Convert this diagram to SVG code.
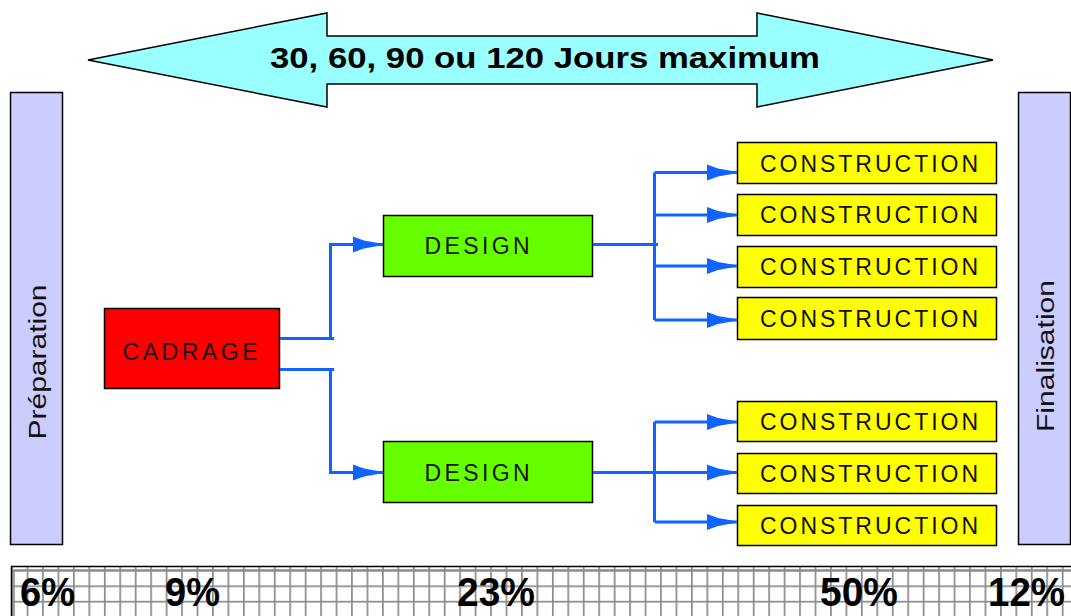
<svg xmlns="http://www.w3.org/2000/svg" width="1071" height="616" viewBox="0 0 1071 616">
<style>
.box{stroke:#000;stroke-width:1.5}
.side{fill:#ccccff}
.cons{fill:#ffff00}
.des{fill:#66ff00}
.cad{fill:#ff0000}
.lbl{font-family:"Liberation Sans",Arial,sans-serif;font-size:23px;fill:#111;text-anchor:middle}
.pct{font-family:"Liberation Sans",Arial,sans-serif;font-size:41px;font-weight:bold;fill:#000}
.conn{fill:none;stroke:#0f64ff;stroke-width:3}
</style>
<defs>
<marker id="ah" markerUnits="userSpaceOnUse" viewBox="0 -9 32 18" markerWidth="32" markerHeight="18" refX="30" refY="0" orient="auto">
<path d="M0,-8 L11,-4 L28,-1 L31,0 L28,1 L11,4 L0,8 Z" fill="#0f64ff"/>
</marker>
<pattern id="grid" patternUnits="userSpaceOnUse" x="11.2" y="554.6" width="15.45" height="15.4">
<rect width="15.45" height="15.4" fill="#fff"/>
<path d="M0.8,0 V15.4 M0,0.8 H15.45" stroke="#8a8a8a" stroke-width="1.8"/>
</pattern>
</defs>

<g id="duration">
<polygon points="88,60 327,13 327,36 757,36 757,13 993,60 757,107 757,84 327,84 327,107" fill="#99ffff" stroke="#000" stroke-width="1.5"/>
<text x="545" y="68" font-family="Liberation Sans,Arial,sans-serif" font-size="30" font-weight="bold" text-anchor="middle" textLength="550" lengthAdjust="spacingAndGlyphs">30, 60, 90 ou 120 Jours maximum</text>
</g>

<g id="preparation">
<rect class="box side" x="10.5" y="92.5" width="52" height="452"/>
<text class="lbl" transform="translate(46,362) rotate(-90)" font-size="25" textLength="155" lengthAdjust="spacingAndGlyphs" fill="#333">Préparation</text>
</g>

<g id="finalisation">
<rect class="box side" x="1018.5" y="92.5" width="52" height="452"/>
<text class="lbl" transform="translate(1054,356) rotate(-90)" font-size="25" textLength="152" lengthAdjust="spacingAndGlyphs" fill="#333">Finalisation</text>
</g>

<g id="cadrage">
<rect class="box cad" x="104.5" y="308.5" width="175" height="80"/>
<text class="lbl" x="190" y="360" textLength="135" lengthAdjust="spacing">CADRAGE</text>
</g>

<g id="design1">
<rect class="box des" x="383.5" y="215.5" width="209" height="61"/>
<text class="lbl" x="477" y="254" textLength="105" lengthAdjust="spacing">DESIGN</text>
</g>
<g id="design2">
<rect class="box des" x="383.5" y="441.5" width="209" height="61"/>
<text class="lbl" x="477" y="481" textLength="105" lengthAdjust="spacing">DESIGN</text>
</g>

<g id="construction1"><rect class="box cons" x="737.5" y="142.5" width="259" height="41"/><text class="lbl" x="869" y="172" textLength="218" lengthAdjust="spacing">CONSTRUCTION</text></g>
<g id="construction2"><rect class="box cons" x="737.5" y="194.5" width="259" height="41"/><text class="lbl" x="869" y="223" textLength="218" lengthAdjust="spacing">CONSTRUCTION</text></g>
<g id="construction3"><rect class="box cons" x="737.5" y="246.5" width="259" height="41"/><text class="lbl" x="869" y="275" textLength="218" lengthAdjust="spacing">CONSTRUCTION</text></g>
<g id="construction4"><rect class="box cons" x="737.5" y="297.5" width="259" height="42"/><text class="lbl" x="869" y="327" textLength="218" lengthAdjust="spacing">CONSTRUCTION</text></g>
<g id="construction5"><rect class="box cons" x="737.5" y="401.5" width="259" height="40"/><text class="lbl" x="869" y="430" textLength="218" lengthAdjust="spacing">CONSTRUCTION</text></g>
<g id="construction6"><rect class="box cons" x="737.5" y="453.5" width="259" height="40"/><text class="lbl" x="869" y="482" textLength="218" lengthAdjust="spacing">CONSTRUCTION</text></g>
<g id="construction7"><rect class="box cons" x="737.5" y="505.5" width="259" height="40"/><text class="lbl" x="869" y="534" textLength="218" lengthAdjust="spacing">CONSTRUCTION</text></g>

<g id="connectors">
<path class="conn" d="M280,338.5 H334"/>
<path class="conn" d="M330.5,338.5 V244.5 H383" marker-end="url(#ah)"/>
<path class="conn" d="M280,369.5 H334"/>
<path class="conn" d="M330.5,369.5 V472.5 H383" marker-end="url(#ah)"/>
<path class="conn" d="M593,244.5 H658"/>
<path class="conn" d="M654.5,172.5 V320"/>
<path class="conn" d="M654.5,172.5 H737" marker-end="url(#ah)"/>
<path class="conn" d="M654.5,215 H737" marker-end="url(#ah)"/>
<path class="conn" d="M654.5,266 H737" marker-end="url(#ah)"/>
<path class="conn" d="M654.5,320 H737" marker-end="url(#ah)"/>
<path class="conn" d="M593,472.5 H658"/>
<path class="conn" d="M654.5,422 V522"/>
<path class="conn" d="M654.5,422 H737" marker-end="url(#ah)"/>
<path class="conn" d="M654.5,472.5 H737" marker-end="url(#ah)"/>
<path class="conn" d="M654.5,522 H737" marker-end="url(#ah)"/>
</g>

<g id="scale">
<rect x="11" y="566" width="1070" height="60" fill="url(#grid)"/>
<path d="M14,616 V570 H1071" fill="none" stroke="#8a8a8a" stroke-width="1.6"/>
<path d="M11.5,616 V566.5 H1071" fill="none" stroke="#000" stroke-width="1.5"/>
<text class="pct" x="20" y="606" textLength="55" lengthAdjust="spacingAndGlyphs">6%</text>
<text class="pct" x="165" y="606" textLength="55" lengthAdjust="spacingAndGlyphs">9%</text>
<text class="pct" x="457" y="606" textLength="78" lengthAdjust="spacingAndGlyphs">23%</text>
<text class="pct" x="820" y="606" textLength="78" lengthAdjust="spacingAndGlyphs">50%</text>
<text class="pct" x="988" y="606" textLength="77" lengthAdjust="spacingAndGlyphs">12%</text>
</g>
</svg>
